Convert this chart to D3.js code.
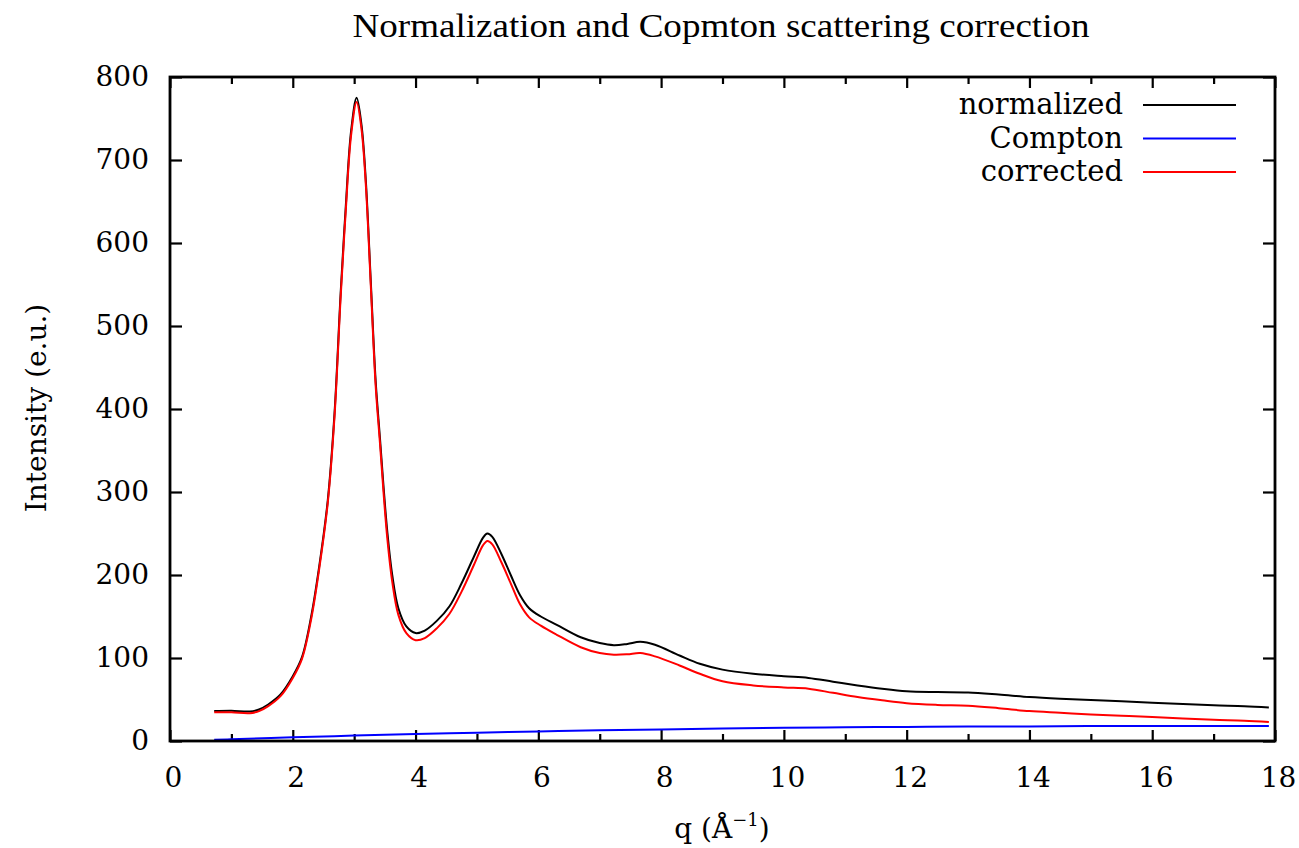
<!DOCTYPE html>
<html>
<head>
<meta charset="utf-8">
<script src="https://cdn.jsdelivr.net/npm/d3@7"></script>
<style>
  html, body { margin: 0; padding: 0; background: #fff; }
  svg { display: block; }
  .tick text { font-family: "DejaVu Serif", serif; font-size: 28px; fill: #000; }
</style>
</head>
<body>
<svg id="chart" width="1299" height="848"></svg>
<script>
// Scattering vector q (1/Å) and intensities (e.u.)
const qNorm = [0.72, 1.0, 1.3, 1.45, 1.6, 1.8, 2.0, 2.15, 2.3, 2.43, 2.57, 2.68, 2.78, 2.86, 2.95, 3.04,
  3.12, 3.19, 3.27, 3.35, 3.42, 3.48, 3.54, 3.62, 3.72, 3.85, 4.0, 4.15, 4.35, 4.55, 4.75, 4.95,
  5.1, 5.17, 5.25, 5.4, 5.55, 5.7, 5.85, 6.04, 6.3, 6.69, 7.0, 7.23, 7.45, 7.66, 7.9, 8.3, 8.63,
  9.0, 9.5, 10.0, 10.4, 10.8, 11.2, 11.6, 12.0, 12.5, 13.0, 13.5, 14.0, 14.5, 15.0, 15.5, 16.0,
  16.5, 17.0, 17.5, 17.9];

const normalized = [36, 36.5, 35.5, 38, 44, 56, 78, 101, 150, 210, 290, 395, 540, 640, 735, 775,
  742, 675, 555, 434, 365, 305, 252, 200, 160, 138, 130, 133, 145, 162, 190, 222,
  245, 250, 246, 225, 200, 176, 160, 150, 140, 125, 118, 115.5, 117, 119.5, 116, 103, 93,
  86, 81, 78, 76, 71.5, 67, 63, 60, 59, 58.5, 56, 53, 51, 49.5, 48, 46,
  44.5, 43, 42, 40.5];

const corrected = [34.5, 34.5, 33.5, 36, 42, 54, 76, 99, 147, 207, 287, 391, 535, 635, 730, 770,
  737, 670, 550, 428, 359, 298, 244, 192, 152, 130, 121.5, 124, 136, 153, 180, 212,
  236, 241, 237, 215, 190, 165, 149, 139, 128, 113, 106, 104, 104.5, 106, 102, 91, 81,
  72, 67, 64.5, 63, 58, 53, 49, 45.5, 43.5, 42.5, 39.5, 36, 34, 32, 30.5, 29,
  27, 25.5, 24.5, 23];

const qCompton = [0.72, 1, 2, 3, 4, 5, 6, 7, 8, 9, 10, 11, 12, 13, 14, 15, 16, 17, 17.9];
const compton = [1.5, 2, 4.5, 6.5, 8.5, 10, 11.5, 13, 14, 15, 16, 16.5, 17, 17.5, 17.5, 18, 18, 18, 18];

const xMajorTicks = [0, 2, 4, 6, 8, 10, 12, 14, 16, 18];
const xMinorTicks = [1, 3, 5, 7, 9, 11, 13, 15, 17];
const yTicks = [0, 100, 200, 300, 400, 500, 600, 700, 800];

const seriesNames = ["normalized", "Compton", "corrected"];
const seriesColors = ["#000000", "#0000ff", "#ff0000"];

const svg = d3.select("#chart");
const plotLeft = 170, plotRight = 1275, plotTop = 77, plotBottom = 741;

const x = d3.scaleLinear().domain([0, 18]).range([plotLeft, plotRight]);
const y = d3.scaleLinear().domain([0, 800]).range([plotBottom, plotTop]);

function styleTicks(g) {
  g.select(".domain").remove();
  g.selectAll(".tick line").attr("stroke", "#000").attr("stroke-width", 2.2);
}

// Bottom axis: major ticks with labels, pointing inward
svg.append("g")
  .attr("transform", `translate(0,${plotBottom})`)
  .call(d3.axisBottom(x).tickValues(xMajorTicks).tickSize(-11).tickPadding(26).tickFormat(d3.format("d")))
  .call(styleTicks)
  .call(g => g.selectAll(".tick text").attr("dx", "3"));

svg.append("g")
  .attr("transform", `translate(0,${plotBottom})`)
  .call(d3.axisBottom(x).tickValues(xMinorTicks).tickSize(-7).tickFormat(""))
  .call(styleTicks);

// Mirrored top ticks
svg.append("g")
  .attr("transform", `translate(0,${plotTop})`)
  .call(d3.axisTop(x).tickValues(xMajorTicks).tickSize(-11).tickFormat(""))
  .call(styleTicks);

svg.append("g")
  .attr("transform", `translate(0,${plotTop})`)
  .call(d3.axisTop(x).tickValues(xMinorTicks).tickSize(-7).tickFormat(""))
  .call(styleTicks);

// Left axis with labels, right axis mirrored
svg.append("g")
  .attr("transform", `translate(${plotLeft},0)`)
  .call(d3.axisLeft(y).tickValues(yTicks).tickSize(-12).tickPadding(21).tickFormat(d3.format("d")))
  .call(styleTicks);

svg.append("g")
  .attr("transform", `translate(${plotRight},0)`)
  .call(d3.axisRight(y).tickValues(yTicks).tickSize(-12).tickFormat(""))
  .call(styleTicks);

// Data curves
const line = d3.line()
  .x(d => x(d[0]))
  .y(d => y(d[1]))
  .curve(d3.curveCatmullRom.alpha(0.5));

const series = [
  d3.zip(qNorm, normalized),
  d3.zip(qCompton, compton),
  d3.zip(qNorm, corrected)
];

series.forEach((pts, i) => {
  svg.append("path")
    .datum(pts)
    .attr("fill", "none")
    .attr("stroke", seriesColors[i])
    .attr("stroke-width", 2)
    .attr("stroke-linejoin", "round")
    .attr("d", line);
});

// Plot frame
svg.append("rect")
  .attr("x", plotLeft).attr("y", plotTop)
  .attr("width", plotRight - plotLeft).attr("height", plotBottom - plotTop)
  .attr("fill", "none").attr("stroke", "#000").attr("stroke-width", 2.8);

// Legend
const legend = svg.append("g");
seriesNames.forEach((name, i) => {
  const ly = 105 + i * 33.5;
  legend.append("text")
    .attr("x", 1123).attr("y", ly + 9)
    .attr("text-anchor", "end")
    .attr("font-family", "DejaVu Serif, serif")
    .attr("font-size", 29)
    .text(name);
  legend.append("line")
    .attr("x1", 1143).attr("x2", 1236)
    .attr("y1", ly).attr("y2", ly)
    .attr("stroke", seriesColors[i]).attr("stroke-width", 2);
});

// Title
svg.append("text")
  .attr("x", 721).attr("y", 37)
  .attr("text-anchor", "middle")
  .attr("font-family", "Liberation Serif, serif")
  .attr("font-size", 34)
  .attr("textLength", 737)
  .attr("lengthAdjust", "spacingAndGlyphs")
  .text("Normalization and Copmton scattering correction");

// Axis titles
svg.append("text")
  .attr("transform", "translate(46,408) rotate(-90)")
  .attr("text-anchor", "middle")
  .attr("font-family", "DejaVu Serif, serif")
  .attr("font-size", 28)
  .text("Intensity (e.u.)");

const xTitle = svg.append("text")
  .attr("x", 722).attr("y", 838)
  .attr("text-anchor", "middle")
  .attr("font-family", "DejaVu Serif, serif")
  .attr("font-size", 28);
xTitle.append("tspan").text("q (Å");
xTitle.append("tspan").attr("font-size", 18).attr("dy", -12).text("−1");
xTitle.append("tspan").attr("dy", 12).text(")");
</script>
</body>
</html>
